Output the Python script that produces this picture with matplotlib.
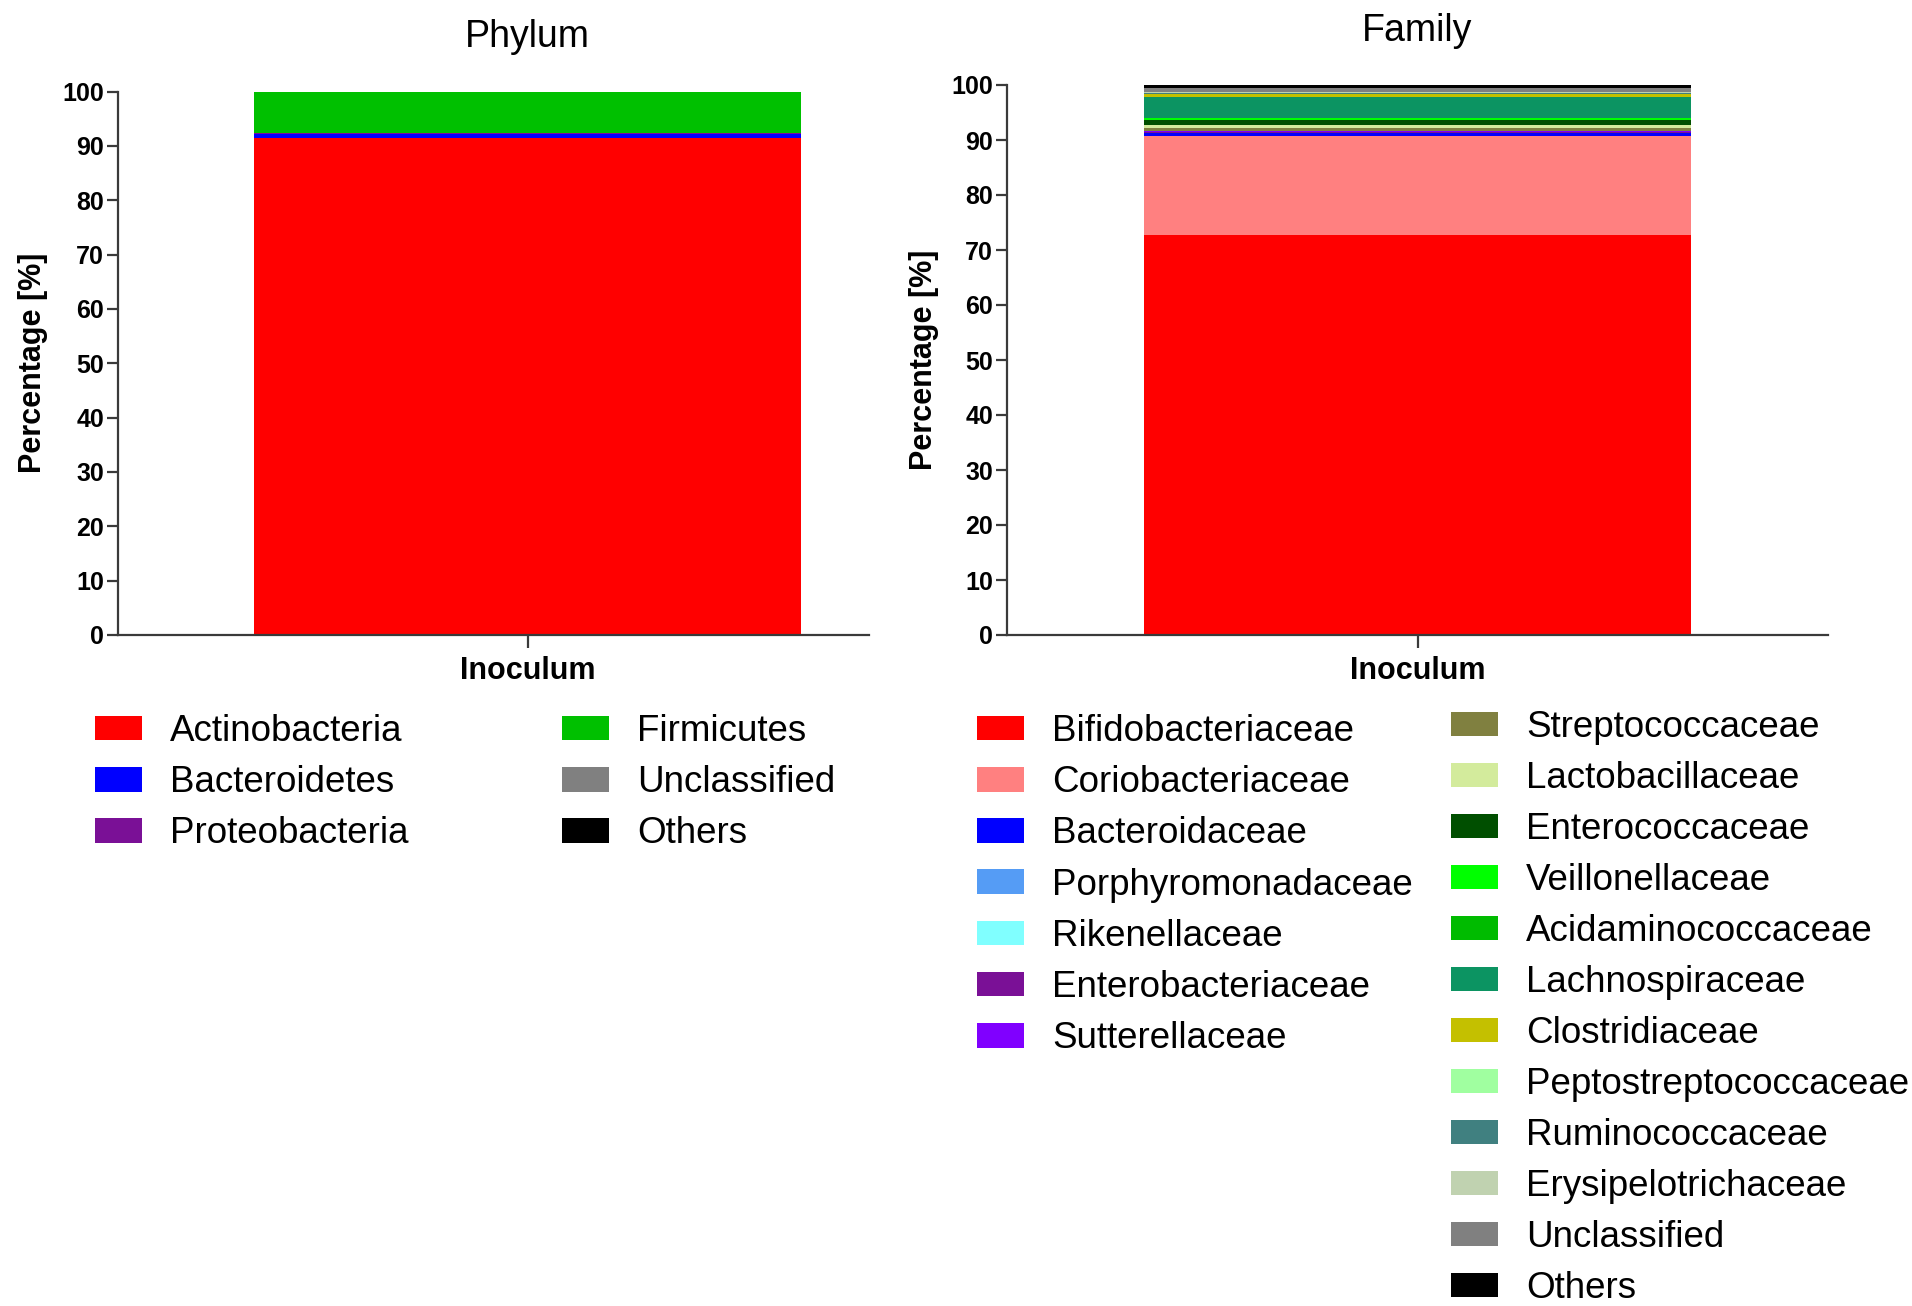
import numpy as np
import matplotlib
matplotlib.use("Agg")
import matplotlib.pyplot as plt
from matplotlib.patches import Patch

plt.rcParams['font.family'] = ['Liberation Sans', 'DejaVu Sans']

# ---------------- data ----------------
sample = ["Inoculum"]

phylum_names = ["Actinobacteria", "Bacteroidetes", "Proteobacteria",
                "Firmicutes", "Unclassified", "Others"]
phylum_values = [91.4, 0.8, 0.2, 7.5, 0.05, 0.05]
phylum_colors = ["#ff0000", "#0000ff", "#7a1096", "#00c000", "#808080", "#000000"]

family_names = ["Bifidobacteriaceae", "Coriobacteriaceae", "Bacteroidaceae",
                "Porphyromonadaceae", "Rikenellaceae", "Enterobacteriaceae",
                "Sutterellaceae", "Streptococcaceae", "Lactobacillaceae",
                "Enterococcaceae", "Veillonellaceae", "Acidaminococcaceae",
                "Lachnospiraceae", "Clostridiaceae", "Peptostreptococcaceae",
                "Ruminococcaceae", "Erysipelotrichaceae", "Unclassified", "Others"]
family_values = [72.66, 18.0, 0.6, 0.05, 0.02, 0.15, 0.1, 0.6, 0.5,
                 0.9, 0.4, 0.1, 3.8, 0.4, 0.1, 0.1, 0.2, 0.8, 0.5]
family_colors = ["#ff0000", "#ff8080", "#0000ff", "#559cf5", "#80ffff",
                 "#7a1096", "#8000ff", "#808040", "#d3eb9c", "#004f00",
                 "#00ff00", "#00bb00", "#0c9462", "#c4c000", "#a0ffa0",
                 "#408080", "#c0d2b0", "#808080", "#000000"]

yticks = list(range(0, 101, 10))

# ---------------- figure ----------------
W, H = 1912, 1306
fig = plt.figure(figsize=(W / 100, H / 100), dpi=100)


def ax_rect(x0, x1, ytop, ybot):
    return [x0 / W, 1 - ybot / H, (x1 - x0) / W, (ybot - ytop) / H]


ax1 = fig.add_axes(ax_rect(118, 869, 91.5, 635))
ax2 = fig.add_axes(ax_rect(1007, 1828, 85, 635))


def stacked(ax, values, colors, xlim, title, title_x, title_y, label_x):
    bottom = 0.0
    for v, c in zip(values, colors):
        ax.bar([0], [v], bottom=bottom, width=1.0, color=c, edgecolor="none",
               linewidth=0)
        bottom += v
    ax.set_xlim(*xlim)
    ax.set_ylim(0, 100)
    ax.set_yticks(yticks)
    ax.set_yticklabels([str(t) for t in yticks], fontsize=18, fontweight="bold")
    ax.set_xticks([0])
    ax.set_xticklabels(sample, fontsize=22, fontweight="bold")
    for s in ["top", "right"]:
        ax.spines[s].set_visible(False)
    for s in ["left", "bottom"]:
        ax.spines[s].set_color("#3a3a3a")
        ax.spines[s].set_linewidth(1.6)
    ax.tick_params(axis="y", length=8, width=1.6, color="#3a3a3a", pad=2)
    ax.tick_params(axis="x", length=9, width=1.6, color="#3a3a3a", pad=6)
    ax.set_ylabel("Percentage [%]", fontsize=22, fontweight="bold")
    ax.yaxis.set_label_coords(label_x, 0.5)
    fig.text(title_x, 1 - title_y / H, title, ha="center", va="center", fontsize=27)


stacked(ax1, phylum_values, phylum_colors, (-0.749, 0.624), "Phylum", 527 / W, 37, -0.093)
stacked(ax2, family_values, family_colors, (-0.75, 0.75), "Family", 1417 / W, 31, -0.083)

FS = 26.5


def col_legend(names, colors, x_patch, y_first, spacing=0.44):
    handles = [Patch(facecolor=c, edgecolor="none", label=n) for n, c in zip(names, colors)]
    leg = fig.legend(handles=handles, loc="upper left",
                     bbox_to_anchor=(x_patch / W, 1 - y_first / H),
                     frameon=False, fontsize=FS, handlelength=1.28,
                     handleheight=0.65, handletextpad=0.76, labelspacing=spacing,
                     borderpad=0, borderaxespad=0)
    return leg


# Phylum legend (two columns)
col_legend(phylum_names[:3], phylum_colors[:3], 95, 714)
col_legend(phylum_names[3:], phylum_colors[3:], 562, 714)
# Family legend (two columns)
col_legend(family_names[:7], family_colors[:7], 977, 714)
col_legend(family_names[7:], family_colors[7:], 1451, 710, spacing=0.435)

fig.savefig("out.png", dpi=100)
